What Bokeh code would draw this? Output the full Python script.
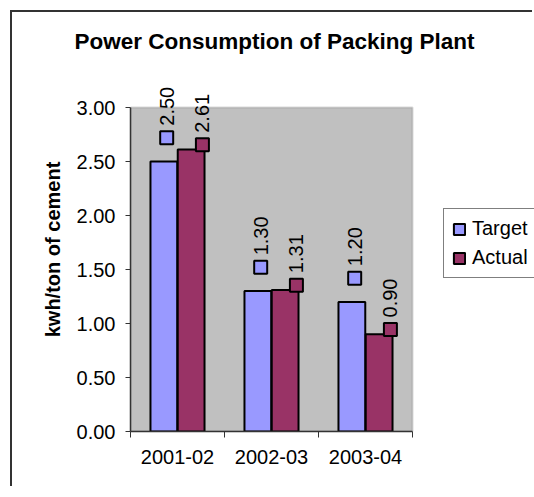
import math
from bokeh.plotting import figure
from bokeh.models import (ColumnDataSource, LinearAxis, FixedTicker,
                          NumeralTickFormatter, Range1d, Legend, LegendItem, BoxAnnotation)
from bokeh.transform import dodge
from bokeh.core.properties import value
from bokeh.embed import file_html
from bokeh.resources import INLINE

# ---- data ----
years = ["2001-02", "2002-03", "2003-04"]
target = [2.50, 1.30, 1.20]
actual = [2.61, 1.31, 0.90]
y_ticks = [0.0, 0.5, 1.0, 1.5, 2.0, 2.5, 3.0]
series_names = ["Target", "Actual"]
title_text = "Power Consumption of Packing Plant"
y_label = "kwh/ton of cement"

FONT = "Liberation Sans"
C_TARGET = "#9999FF"
C_ACTUAL = "#993366"

n = len(years)
src = ColumnDataSource(dict(
    xc=[i + 0.5 for i in range(n)],          # category centre on the category scale
    year=years, target=target, actual=actual,
    target_lbl=[f"{v:.2f}" for v in target],
    actual_lbl=[f"{v:.2f}" for v in actual],
))

y_top = y_ticks[-1]
W, H = 522, 476
ML, MT, MB = 118, 55, H - 419
p = figure(width=W, height=H,
           x_range=Range1d(0, n * (W - ML) / 282),
           y_range=Range1d(0, y_top * (419 - MT) / 324),
           x_axis_type=None, y_axis_type=None,
           output_backend="svg", toolbar_location=None,
           min_border_left=ML, min_border_right=0,
           min_border_top=MT, min_border_bottom=MB)
p.styles = {"margin-left": "12px", "margin-top": "12px",
            "box-shadow": "-2px -2px 0 0 #333333"}

p.background_fill_color = "white"
p.border_fill_color = "white"
p.outline_line_color = None

# grey plot area
p.add_layout(BoxAnnotation(left=0, right=n, bottom=0, top=y_top,
                           fill_color="#C0C0C0", fill_alpha=1,
                           line_color="#808080", line_width=2, level="underlay"))

# title
p.title.text = title_text
p.title.text_font = FONT
p.title.text_font_size = "22.5px"
p.title.text_font_style = "bold"
p.title.text_color = "black"
p.title.align = "left"
p.title.offset = 74 - 130
p.title.vertical_align = "bottom"
p.title.standoff = 28

# y axis
yax = LinearAxis(ticker=FixedTicker(ticks=y_ticks, minor_ticks=[]),
                 formatter=NumeralTickFormatter(format="0.00"),
                 axis_label=y_label, bounds=(0, y_top))
yax.major_label_text_font = FONT
yax.major_label_text_font_size = "20px"
yax.major_label_text_color = "black"
yax.major_tick_in = 0
yax.major_tick_out = 5
yax.major_tick_line_color = "#333333"
yax.major_label_standoff = 10
yax.axis_line_color = "#333333"
yax.axis_line_width = 1.5
yax.minor_tick_line_color = None
yax.axis_label_text_font = FONT
yax.axis_label_text_font_size = "20px"
yax.axis_label_text_font_style = "bold"
yax.axis_label_text_color = "black"
yax.axis_label_standoff = 10
p.add_layout(yax, "left")

# x axis: labels at category centres, ticks at category boundaries
xax = LinearAxis(ticker=FixedTicker(ticks=[i + 0.5 for i in range(n)],
                                    minor_ticks=[float(i) for i in range(n + 1)]),
                 major_label_overrides={i + 0.5: yr for i, yr in enumerate(years)},
                 bounds=(0, n))
xax.major_tick_line_color = None
xax.major_tick_in = 0
xax.major_tick_out = 6
xax.minor_tick_in = 0
xax.minor_tick_out = 6
xax.minor_tick_line_color = "#333333"
xax.axis_line_color = "#333333"
xax.axis_line_width = 1.5
xax.major_label_text_font = FONT
xax.major_label_text_font_size = "20px"
xax.major_label_text_color = "black"
xax.major_label_standoff = 12
p.add_layout(xax, "below")

BW = 0.285
OFF = 0.145

rt = p.vbar(x=dodge("xc", -OFF), top="target", width=BW, source=src,
            fill_color=C_TARGET, line_color="black", line_width=2)
ra = p.vbar(x=dodge("xc", OFF), top="actual", width=BW, source=src,
            fill_color=C_ACTUAL, line_color="black", line_width=2)

# data label keys (markers) and rotated value labels
tx = dodge("xc", -OFF + 0.03)
ty = dodge("target", 0.22)
ax_ = dodge("xc", OFF + 0.12)
ay = dodge("actual", 0.045)

p.scatter(x=tx, y=ty, source=src, marker="square", size=13,
          fill_color=C_TARGET, line_color="black", line_width=2)
p.scatter(x=ax_, y=ay, source=src, marker="square", size=13,
          fill_color=C_ACTUAL, line_color="black", line_width=2)

for xx, yy, col in [(tx, ty, "target_lbl"), (ax_, ay, "actual_lbl")]:
    p.text(x=xx, y=yy, text=col, source=src, angle=math.pi / 2,
           text_align="left", text_baseline="middle", y_offset=-12,
           text_font=value(FONT), text_font_size="20px", text_color="black")

legend = Legend(items=[LegendItem(label=series_names[0], renderers=[rt]),
                       LegendItem(label=series_names[1], renderers=[ra])],
                location=(313, 153))
legend.label_text_font = FONT
legend.label_text_font_size = "20px"
legend.label_text_color = "black"
legend.glyph_width = 14
legend.glyph_height = 14
legend.label_standoff = 6
legend.spacing = 6
legend.padding = 8
legend.margin = 0
legend.border_line_color = "black"
legend.border_line_width = 1
legend.background_fill_color = "white"
legend.background_fill_alpha = 1
p.add_layout(legend)

open("out.html", "w").write(file_html(p, INLINE))
